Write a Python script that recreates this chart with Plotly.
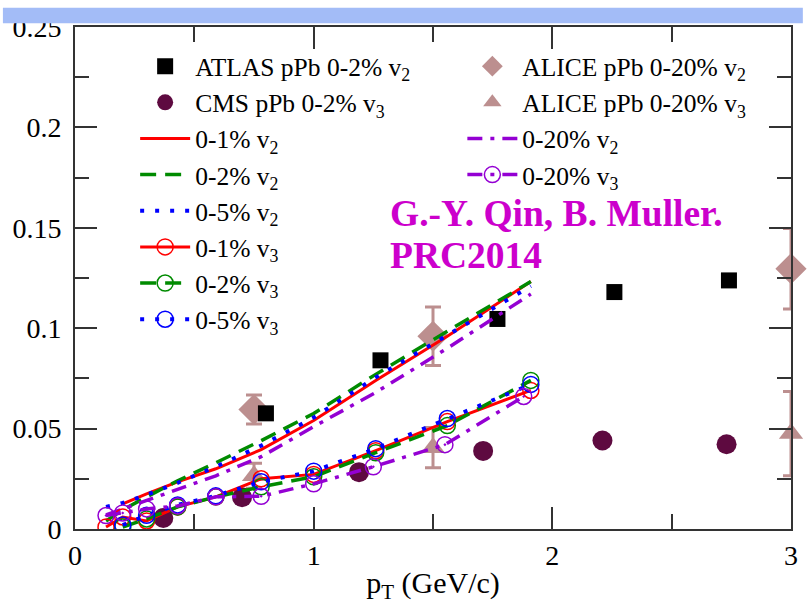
import plotly.graph_objects as go

# ---------------- data ----------------
atlas_x = [0.80, 1.28, 1.77, 2.26, 2.74]
atlas_v2 = [0.0576, 0.0840, 0.1046, 0.1180, 0.1238]

cms_x = [0.37, 0.70, 1.19, 1.71, 2.21, 2.73]
cms_v3 = [0.0055, 0.0158, 0.0283, 0.0389, 0.0441, 0.0422]

alice_x = [0.75, 1.50, 3.00]
alice_v2 = [0.0595, 0.0960, 0.1296]
alice_v2_err = [0.0072, 0.0146, 0.0200]
alice_v3 = [0.0265, 0.0405, 0.0475]
alice_v3_err = [0.0062, 0.0100, 0.0210]

v2_x = [0.13, 0.20, 0.30, 0.43, 0.59, 0.78, 1.00, 1.26, 1.56, 1.91]
v2_01 = [None, 0.0125, 0.0175, 0.0235, 0.0300, 0.0395, 0.0540, 0.0740, 0.0960, 0.1232]
v2_02 = [0.0040, 0.0095, 0.0160, 0.0240, 0.0330, 0.0440, 0.0575, 0.0770, 0.0985, 0.1232]
v2_05 = [0.0110, 0.0130, 0.0170, 0.0230, 0.0310, 0.0415, 0.0555, 0.0755, 0.0965, 0.1210]
v2_020 = [0.0070, 0.0100, 0.0140, 0.0195, 0.0265, 0.0360, 0.0510, 0.0680, 0.0900, 0.1170]

v3_x = [0.13, 0.20, 0.30, 0.43, 0.59, 0.78, 1.00, 1.26, 1.56, 1.91]
v3_01 = [0.0010, 0.0060, 0.0040, 0.0110, 0.0160, 0.0250, 0.0272, 0.0390, 0.0535, 0.0690]
v3_02 = [None, 0.0010, 0.0050, 0.0110, 0.0160, 0.0210, 0.0260, 0.0380, 0.0515, 0.0740]
v3_05 = [None, 0.0020, 0.0068, 0.0120, 0.0165, 0.0235, 0.0288, 0.0400, 0.0550, 0.0720]
v3_020_x = [0.13, 0.20, 0.30, 0.43, 0.59, 0.78, 1.00, 1.25, 1.55, 1.88]
v3_020 = [0.0067, 0.0080, 0.0100, 0.0115, 0.0160, 0.0163, 0.0225, 0.0310, 0.0420, 0.0660]

FONT = "Liberation Serif"
RED = "#ff0000"
GREEN = "#008b00"
BLUE = "#0000ff"
VIOLET = "#9400d3"
ROSY = "#bc8f8f"
MAROON = "#5e0a40"

fig = go.Figure()

# experimental data
fig.add_trace(go.Scatter(x=alice_x, y=alice_v2, mode="markers", name="ALICE pPb 0-20% v<sub>2</sub>",
                         marker=dict(symbol="diamond", size=24, color=ROSY),
                         error_y=dict(type="data", array=alice_v2_err, color=ROSY, thickness=3, width=8),
                         legend="legend2", legendrank=1, cliponaxis=False))
fig.add_trace(go.Scatter(x=alice_x, y=alice_v3, mode="markers", name="ALICE pPb 0-20% v<sub>3</sub>",
                         marker=dict(symbol="triangle-up", size=21, color=ROSY),
                         error_y=dict(type="data", array=alice_v3_err, color=ROSY, thickness=3, width=8),
                         legend="legend2", legendrank=2, cliponaxis=False))
fig.add_trace(go.Scatter(x=atlas_x, y=atlas_v2, mode="markers", name="ATLAS pPb 0-2% v<sub>2</sub>",
                         marker=dict(symbol="square", size=16, color="black"),
                         legend="legend", legendrank=1))
fig.add_trace(go.Scatter(x=cms_x, y=cms_v3, mode="markers", name="CMS pPb 0-2% v<sub>3</sub>",
                         marker=dict(symbol="circle", size=20, color=MAROON),
                         legend="legend", legendrank=2))

# theory v2
fig.add_trace(go.Scatter(x=v2_x, y=v2_01, mode="lines", name="0-1% v<sub>2</sub>",
                         line=dict(color=RED, width=3), legend="legend", legendrank=3))
fig.add_trace(go.Scatter(x=v2_x, y=v2_02, mode="lines", name="0-2% v<sub>2</sub>",
                         line=dict(color=GREEN, width=3.5, dash="16px,9px"), legend="legend", legendrank=4))
fig.add_trace(go.Scatter(x=v2_x, y=v2_05, mode="lines", name="0-5% v<sub>2</sub>",
                         line=dict(color=BLUE, width=4, dash="4px,11px"), legend="legend", legendrank=5))
fig.add_trace(go.Scatter(x=v2_x, y=v2_020, mode="lines", name="0-20% v<sub>2</sub>",
                         line=dict(color=VIOLET, width=3.5, dash="15px,8px,4px,8px"),
                         legend="legend2", legendrank=3))

# theory v3
fig.add_trace(go.Scatter(x=v3_x, y=v3_01, mode="lines+markers", name="0-1% v<sub>3</sub>",
                         line=dict(color=RED, width=3),
                         marker=dict(symbol="circle-open", size=16, color=RED, line=dict(width=1.5)),
                         legend="legend", legendrank=6))
fig.add_trace(go.Scatter(x=v3_x, y=v3_02, mode="lines+markers", name="0-2% v<sub>3</sub>",
                         line=dict(color=GREEN, width=3.5, dash="16px,9px"),
                         marker=dict(symbol="circle-open", size=16, color=GREEN, line=dict(width=1.5)),
                         legend="legend", legendrank=7))
fig.add_trace(go.Scatter(x=v3_x, y=v3_05, mode="lines+markers", name="0-5% v<sub>3</sub>",
                         line=dict(color=BLUE, width=4, dash="4px,11px"),
                         marker=dict(symbol="circle-open", size=16, color=BLUE, line=dict(width=1.5)),
                         legend="legend", legendrank=8))
fig.add_trace(go.Scatter(x=v3_020_x, y=v3_020, mode="lines+markers", name="0-20% v<sub>3</sub>",
                         line=dict(color=VIOLET, width=3.5, dash="15px,8px,4px,8px"),
                         marker=dict(symbol="circle-open-dot", size=16, color=VIOLET, line=dict(width=1.5)),
                         legend="legend2", legendrank=4))

axis_common = dict(showline=True, linecolor="#333333", linewidth=2, mirror="ticks",
                   ticks="inside", tickcolor="#333333", tickwidth=2, ticklen=22,
                   showgrid=False, zeroline=False,
                   tickfont=dict(family=FONT, size=28, color="black"))

fig.update_layout(
    width=810, height=606,
    margin=dict(l=73, r=12, t=16, b=69),
    paper_bgcolor="white", plot_bgcolor="white",
    font=dict(family=FONT, color="black"),
    showlegend=True,
    xaxis=dict(range=[0, 3], dtick=1, tick0=0,
               minor=dict(dtick=0.5, ticks="inside", ticklen=15, tickcolor="#333333", tickwidth=2),
               title=dict(text="p<sub>T</sub> (GeV/c)", font=dict(family=FONT, size=30), standoff=2),
               **axis_common),
    yaxis=dict(range=[0, 0.25], dtick=0.05, tick0=0,
               minor=dict(dtick=0.025, ticks="inside", ticklen=14, tickcolor="#333333", tickwidth=2),
               ticklabelstandoff=6,
               **axis_common),
    legend=dict(x=0.084, y=0.968, xanchor="left", yanchor="top", bgcolor="rgba(0,0,0,0)",
                font=dict(family=FONT, size=25.5, color="black"), itemwidth=50,
                tracegroupgap=0),
    legend2=dict(x=0.541, y=0.968, xanchor="left", yanchor="top", bgcolor="rgba(0,0,0,0)",
                 font=dict(family=FONT, size=25.5, color="black"), itemwidth=50,
                 tracegroupgap=0),
    annotations=[
        dict(text="<b>G.-Y. Qin, B. Muller.</b>", xref="paper", yref="paper",
             x=(390 - 73) / 725, y=(537 - 210) / 521, xanchor="left", yanchor="middle",
             showarrow=False, font=dict(family=FONT, size=37.5, color="#cc00cc")),
        dict(text="<b>PRC2014</b>", xref="paper", yref="paper",
             x=(390 - 73) / 725, y=(537 - 253) / 521, xanchor="left", yanchor="middle",
             showarrow=False, font=dict(family=FONT, size=37.5, color="#cc00cc")),
    ],
    shapes=[
        dict(type="rect", xref="paper", yref="paper", layer="above",
             x0=-73 / 725, x1=1 + 12 / 725, y0=1 + 4 / 521, y1=1 + 20 / 521,
             fillcolor="#a3bcf7", line=dict(width=0)),
    ],
)

fig.write_html("out.html")
